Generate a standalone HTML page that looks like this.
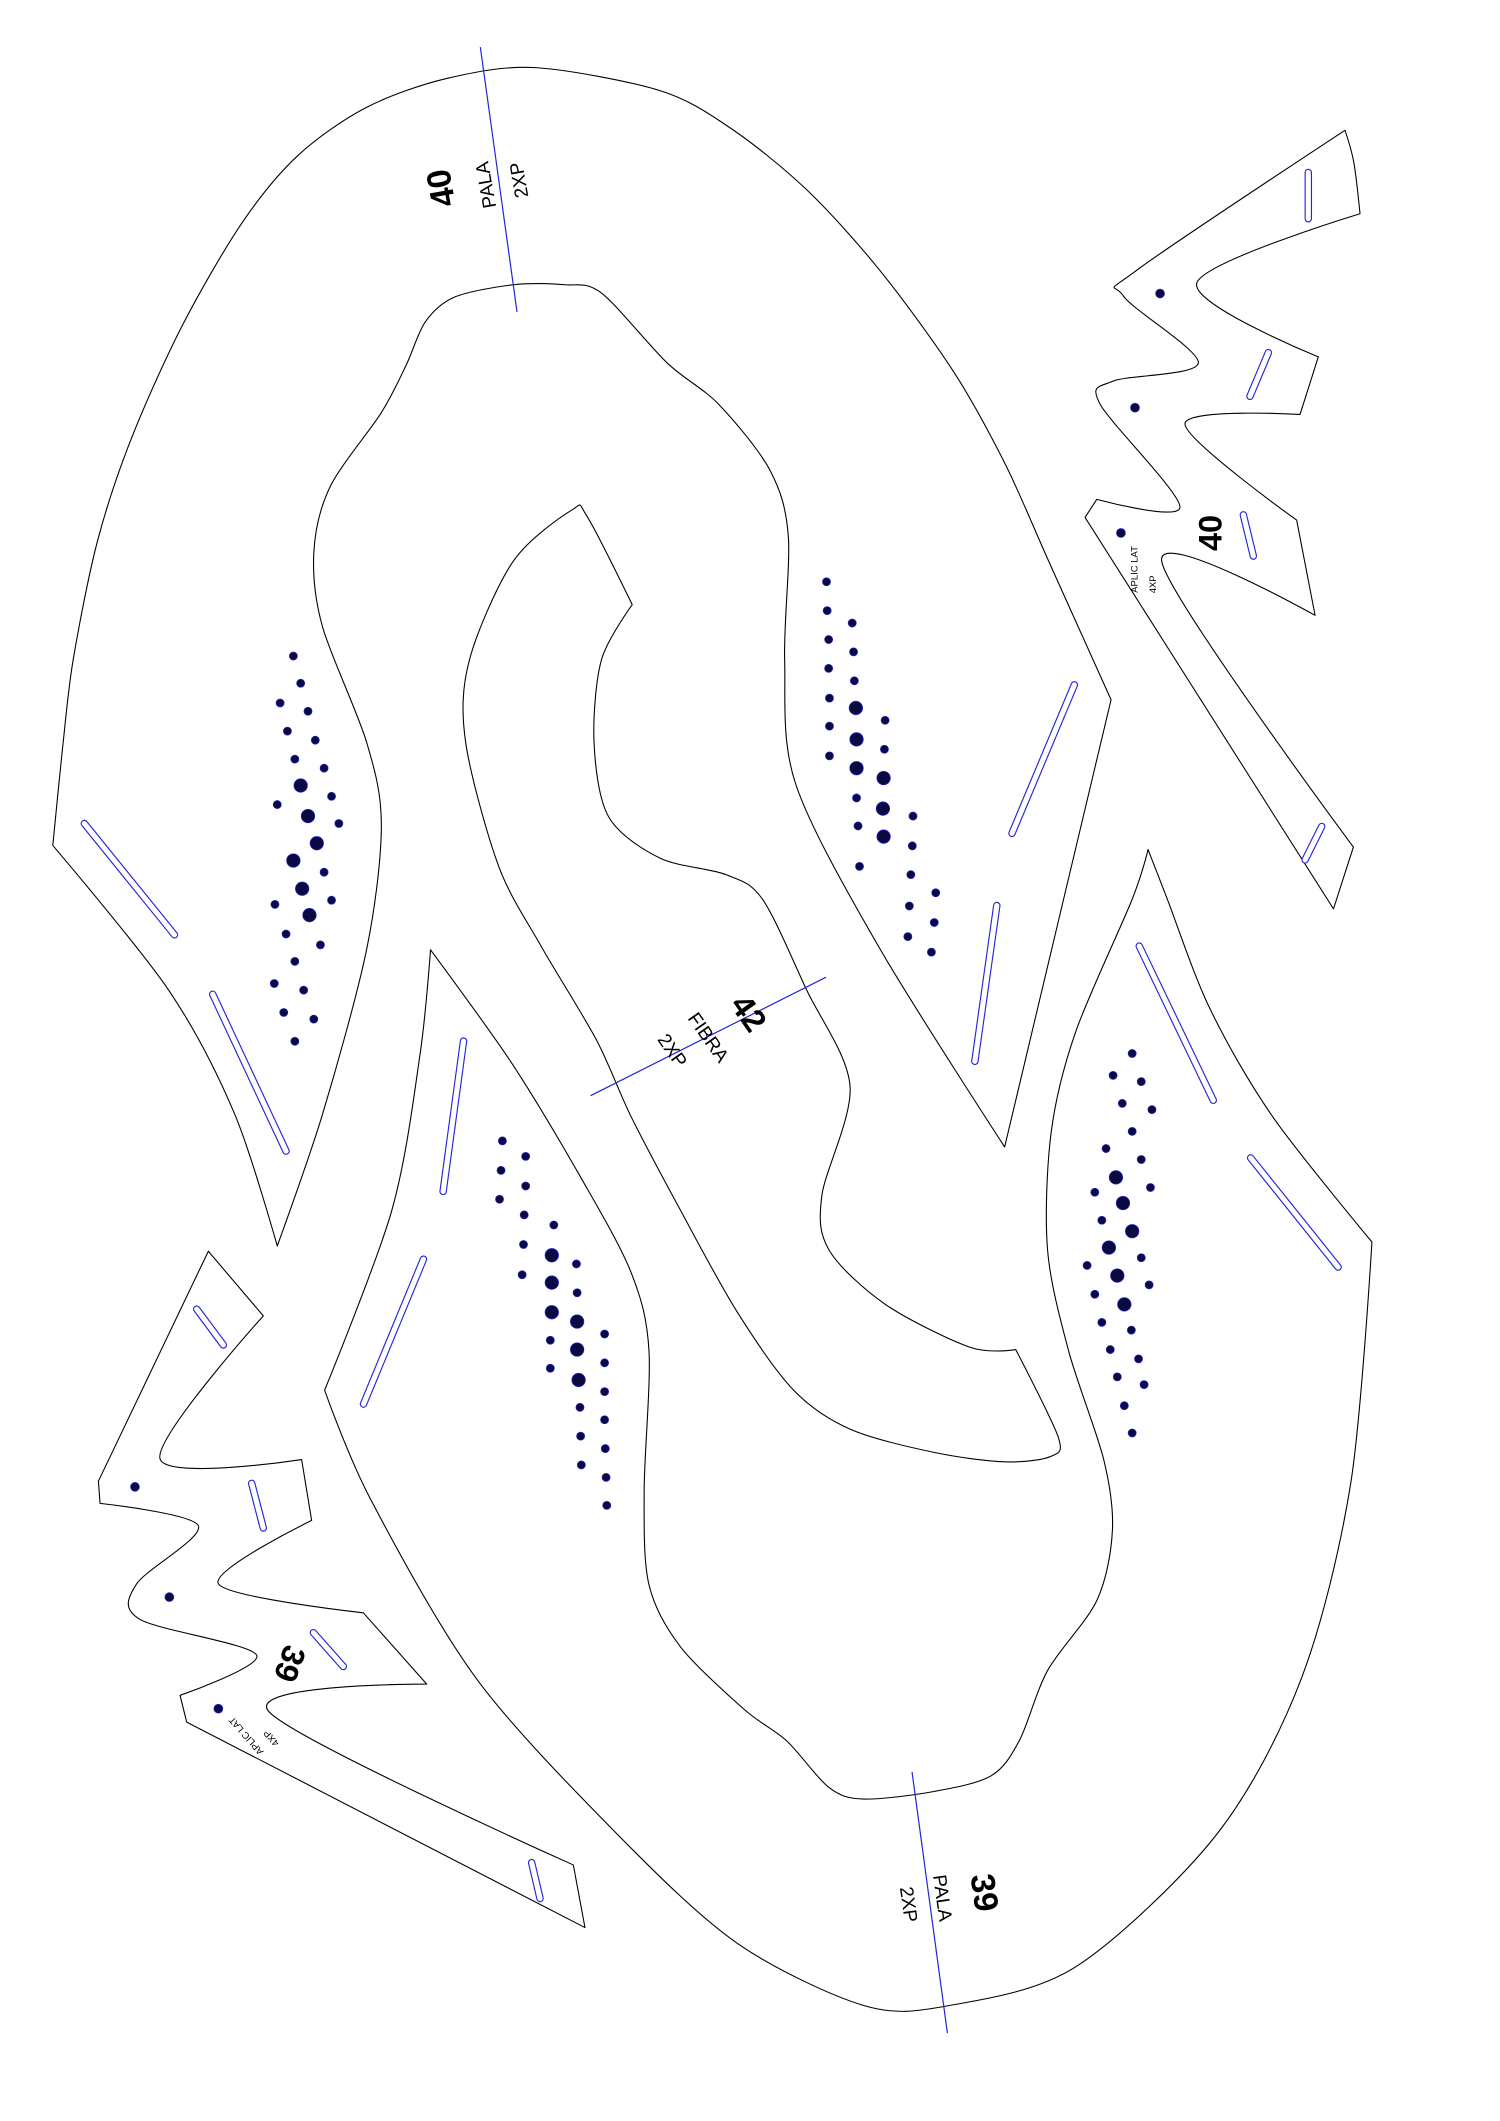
<!DOCTYPE html>
<html><head><meta charset="utf-8"><style>
html,body{margin:0;padding:0;background:#fff;}
svg{display:block;}
text{font-family:"Liberation Sans",sans-serif;fill:#000;}
</style></head><body>
<svg id="s" width="1500" height="2121" viewBox="0 0 1108 1568" preserveAspectRatio="none" xmlns="http://www.w3.org/2000/svg">
<rect width="1108" height="1568" fill="#fff"/>
<g id="outl" fill="none" stroke="#000" stroke-width="0.8" stroke-linejoin="round">
<polygon points="39,625 46,555 54,488 72,400 97.5,323 135,240 178.8,164.7 220,115 270.9,79.3 330,58 395.4,50 487.5,67 540,95 595.9,140.3 650,200 704.2,274.5 742,342 774.6,414.8 820.7,517.3 742.1,847.9 650,701.5 587.7,579.5 579.6,488 582.3,396.5 568.8,347.7 530.9,298.9 492.9,268.4 444.2,216.6 417.1,210.5 379.2,210.5 335.9,219.6 314.2,237.9 300,270 281.7,305 243.8,359.9 231.8,408.7 238.3,463.6 270.9,549 281.7,610 270.9,701.5 238.3,823.5 204.8,921.1 173.3,823.5 124.6,732"/>
<polygon points="422.5,377 433.4,381.3 467,447 444.2,488 438.8,549 449.6,603.9 487.5,634.4 536.3,646.6 563.4,665 595.9,732 627.9,803 607.1,883.7 612.3,924 654,964.3 716.5,996 750.3,997.7 781.6,1062.2 776.4,1076.6 742.5,1080.7 690.4,1073.8 627.9,1056.5 586.2,1027.7 544.6,970 502.9,895.2 466.4,826 440.4,768.5 400,700 368.4,640.5 344,549 346.7,488 379.2,414.8"/>
<polygon points="239.8,1027.7 273.7,1108.3 351.8,1240.8 456,1356 544.6,1436.6 638.3,1482.7 700.8,1482.7 794.6,1454 898.8,1356 961.3,1240.8 997.7,1096.8 1013.4,918.2 940.4,826 893.6,745.4 862.3,664.8 848,628 836.3,664.8 794.6,762.7 776.4,837.6 773.8,924 789.4,998.9 815.4,1079.5 821.7,1131.4 810.2,1183.2 773.8,1235 752.9,1286.9 732.1,1312.8 690.4,1324.3 638.3,1330 612.3,1321.4 581,1286.9 549.8,1263.8 502.9,1217.8 479.4,1171.7 475.8,1102.6 479.4,998.9 466.4,941.3 430,872.2 377.9,785.8 318,702.2 310.2,780 289.3,895.2"/>
<polygon points="993.5,96.3 1000,120 1004.6,158 884,209.3 973.8,263.8 960.3,306.4 875.3,313.3 957.8,384.5 971.4,454.9 858.1,414.9 999.7,626.2 985,671.9 801.5,382.5 810.1,369.2 871.6,375 812.6,298.8 822.4,281.7 885.2,268.3 829.8,218.8 839.6,199.8"/>
<polygon points="153.9,925 194.5,972.8 118.2,1078.4 222.8,1079 230.2,1124 161.3,1170.8 268.4,1192.3 315.2,1245 198.2,1264.9 423.5,1378.7 432.1,1425 137.9,1273.1 133,1253.3 189.6,1223.6 103.4,1197.2 101,1170.8 146.5,1127.9 73.9,1111.4 72.7,1095"/>
</g>
<g stroke="#2626d9" stroke-width="0.9">
<line x1="354.8" y1="34.8" x2="381.9" y2="230.6"/>
<line x1="436.2" y1="810" x2="610.2" y2="722.4"/>
<line x1="673.7" y1="1310" x2="699.8" y2="1503"/>
</g>
<g stroke-linecap="round">
<g stroke="#2626d9" stroke-width="5.5">
<line x1="62.3" y1="608.8" x2="128.9" y2="691.1"/><line x1="157.1" y1="735" x2="211.3" y2="851"/>
<line x1="793.6" y1="506.3" x2="747.5" y2="616.1"/><line x1="736.3" y1="669.4" x2="720.1" y2="784.6"/>
<line x1="342.4" y1="769.6" x2="327.3" y2="880.8"/><line x1="312.8" y1="930.9" x2="268.5" y2="1038"/>
<line x1="841.5" y1="699.4" x2="896.2" y2="813.4"/><line x1="923.8" y1="856" x2="988.4" y2="936.7"/>
<line x1="966.4" y1="127.5" x2="966.4" y2="161.7"/><line x1="923.3" y1="293" x2="936.9" y2="260.7"/>
<line x1="918.4" y1="380.6" x2="925.8" y2="411.1"/><line x1="964" y1="635.7" x2="976.3" y2="611"/>
<line x1="145.3" y1="967.8" x2="165" y2="994.3"/><line x1="185.9" y1="1096.6" x2="194.5" y2="1129.6"/>
<line x1="231.5" y1="1207" x2="253.6" y2="1232"/><line x1="392.7" y1="1377" x2="398.9" y2="1403.5"/>
</g>
<g stroke="#fff" stroke-width="3.8">
<line x1="62.3" y1="608.8" x2="128.9" y2="691.1"/><line x1="157.1" y1="735" x2="211.3" y2="851"/>
<line x1="793.6" y1="506.3" x2="747.5" y2="616.1"/><line x1="736.3" y1="669.4" x2="720.1" y2="784.6"/>
<line x1="342.4" y1="769.6" x2="327.3" y2="880.8"/><line x1="312.8" y1="930.9" x2="268.5" y2="1038"/>
<line x1="841.5" y1="699.4" x2="896.2" y2="813.4"/><line x1="923.8" y1="856" x2="988.4" y2="936.7"/>
<line x1="966.4" y1="127.5" x2="966.4" y2="161.7"/><line x1="923.3" y1="293" x2="936.9" y2="260.7"/>
<line x1="918.4" y1="380.6" x2="925.8" y2="411.1"/><line x1="964" y1="635.7" x2="976.3" y2="611"/>
<line x1="145.3" y1="967.8" x2="165" y2="994.3"/><line x1="185.9" y1="1096.6" x2="194.5" y2="1129.6"/>
<line x1="231.5" y1="1207" x2="253.6" y2="1232"/><line x1="392.7" y1="1377" x2="398.9" y2="1403.5"/>
</g>
</g>
<g fill="#0a0a40" stroke="#2626d9" stroke-width="0.5">
<circle cx="216.7" cy="485" r="3"/><circle cx="222.1" cy="505.1" r="3"/><circle cx="206.9" cy="519.7" r="3"/><circle cx="227.5" cy="525.8" r="3"/><circle cx="212.3" cy="540.5" r="3"/><circle cx="232.9" cy="547.2" r="3"/><circle cx="217.8" cy="561.2" r="3"/><circle cx="239.4" cy="567.9" r="3"/><circle cx="222.1" cy="580.7" r="5"/><circle cx="244.9" cy="588.7" r="3"/><circle cx="204.8" cy="594.8" r="3"/><circle cx="227.5" cy="603.3" r="5"/><circle cx="250.3" cy="608.8" r="3"/><circle cx="234" cy="623.4" r="5"/><circle cx="216.7" cy="636.2" r="5"/><circle cx="239.4" cy="644.8" r="3"/><circle cx="223.2" cy="657" r="5"/><circle cx="244.9" cy="665.5" r="3"/><circle cx="203.1" cy="668.6" r="3"/><circle cx="228.6" cy="676.5" r="5"/><circle cx="211.3" cy="690.5" r="3"/><circle cx="236.7" cy="698.5" r="3"/><circle cx="217.8" cy="710.7" r="3"/><circle cx="202.6" cy="727.1" r="3"/><circle cx="224.3" cy="732" r="3"/><circle cx="209.6" cy="748.5" r="3"/><circle cx="231.8" cy="753.4" r="3"/><circle cx="217.8" cy="769.8" r="3"/>
<circle cx="610.5" cy="430.1" r="3"/><circle cx="611" cy="451.4" r="3"/><circle cx="629.5" cy="460.6" r="3"/><circle cx="612.1" cy="472.8" r="3"/><circle cx="630.5" cy="481.9" r="3"/><circle cx="612.1" cy="494.1" r="3"/><circle cx="631.1" cy="503.3" r="3"/><circle cx="612.7" cy="516.1" r="3"/><circle cx="632.2" cy="523.4" r="5"/><circle cx="653.8" cy="532.5" r="3"/><circle cx="612.7" cy="536.8" r="3"/><circle cx="632.7" cy="546.6" r="5"/><circle cx="653.3" cy="553.9" r="3"/><circle cx="612.7" cy="558.8" r="3"/><circle cx="632.7" cy="567.9" r="5"/><circle cx="652.7" cy="575.2" r="5"/><circle cx="632.7" cy="589.9" r="3"/><circle cx="652.2" cy="597.8" r="5"/><circle cx="674.4" cy="603.3" r="3"/><circle cx="633.8" cy="610.6" r="3"/><circle cx="652.7" cy="618.5" r="5"/><circle cx="673.9" cy="625.3" r="3"/><circle cx="634.9" cy="640.5" r="3"/><circle cx="672.8" cy="646.6" r="3"/><circle cx="691.2" cy="660" r="3"/><circle cx="671.7" cy="669.8" r="3"/><circle cx="690.1" cy="682" r="3"/><circle cx="670.6" cy="692.4" r="3"/><circle cx="688" cy="703.9" r="3"/>
<circle cx="371.1" cy="843.4" r="3"/><circle cx="388.3" cy="854.9" r="3"/><circle cx="370.1" cy="865.2" r="3"/><circle cx="388.3" cy="876.8" r="3"/><circle cx="369" cy="886.6" r="3"/><circle cx="387.2" cy="898.1" r="3"/><circle cx="409.1" cy="905.6" r="3"/><circle cx="386.7" cy="920" r="3"/><circle cx="407.6" cy="928" r="5"/><circle cx="425.8" cy="934.4" r="3"/><circle cx="385.7" cy="942.4" r="3"/><circle cx="407.6" cy="948.2" r="5"/><circle cx="426.3" cy="955.7" r="3"/><circle cx="407.6" cy="970.1" r="5"/><circle cx="426.3" cy="977" r="5"/><circle cx="446.6" cy="986.2" r="3"/><circle cx="406.5" cy="990.8" r="3"/><circle cx="426.3" cy="997.7" r="5"/><circle cx="446.6" cy="1007.5" r="3"/><circle cx="406.5" cy="1011.5" r="3"/><circle cx="427.4" cy="1020.2" r="5"/><circle cx="446.6" cy="1028.8" r="3"/><circle cx="428.4" cy="1040.4" r="3"/><circle cx="446.6" cy="1049.6" r="3"/><circle cx="428.9" cy="1061.7" r="3"/><circle cx="447.1" cy="1070.9" r="3"/><circle cx="429.4" cy="1083" r="3"/><circle cx="447.7" cy="1092.2" r="3"/><circle cx="448.2" cy="1112.9" r="3"/>
<circle cx="836.3" cy="778.8" r="3"/><circle cx="822.2" cy="795" r="3"/><circle cx="843" cy="799.6" r="3"/><circle cx="829" cy="815.7" r="3"/><circle cx="850.9" cy="820.3" r="3"/><circle cx="836.3" cy="836.4" r="3"/><circle cx="817" cy="849.1" r="3"/><circle cx="843" cy="857.2" r="3"/><circle cx="824.3" cy="870.4" r="5"/><circle cx="849.8" cy="877.9" r="3"/><circle cx="808.7" cy="881.4" r="3"/><circle cx="829.5" cy="889.4" r="5"/><circle cx="813.9" cy="902.1" r="3"/><circle cx="836.3" cy="910.2" r="5"/><circle cx="819.1" cy="922.3" r="5"/><circle cx="843" cy="929.8" r="3"/><circle cx="803" cy="935.5" r="3"/><circle cx="825.3" cy="943" r="5"/><circle cx="848.8" cy="949.9" r="3"/><circle cx="808.7" cy="956.8" r="3"/><circle cx="830.5" cy="964.3" r="5"/><circle cx="813.9" cy="977.6" r="3"/><circle cx="835.7" cy="983.3" r="3"/><circle cx="820.1" cy="997.7" r="3"/><circle cx="841" cy="1004.6" r="3"/><circle cx="825.3" cy="1017.9" r="3"/><circle cx="845.1" cy="1023.6" r="3"/><circle cx="830.5" cy="1039.2" r="3"/><circle cx="836.3" cy="1059.4" r="3"/>
<circle cx="856.9" cy="217" r="3.3"/><circle cx="838.4" cy="301.4" r="3.3"/><circle cx="828" cy="394" r="3.3"/>
<circle cx="99.7" cy="1099.2" r="3.3"/><circle cx="125.1" cy="1180.7" r="3.3"/><circle cx="161.3" cy="1263.2" r="3.3"/>
</g>
<g text-anchor="middle" dominant-baseline="central">
<text transform="translate(326,139) rotate(-100)" font-size="25" font-weight="bold">40</text>
<text transform="translate(359.5,136.6) rotate(-100)" font-size="14">PALA</text>
<text transform="translate(384,133) rotate(-100)" font-size="14">2XP</text>
<text transform="translate(553,749) rotate(55)" font-size="24" font-weight="bold">42</text>
<text transform="translate(522.7,767.3) rotate(55)" font-size="14">FIBRA</text>
<text transform="translate(496.1,777) rotate(55)" font-size="14">2XP</text>
<text transform="translate(726.9,1399.2) rotate(82)" font-size="25" font-weight="bold">39</text>
<text transform="translate(695.6,1403.2) rotate(82)" font-size="14">PALA</text>
<text transform="translate(670.6,1408) rotate(82)" font-size="14">2XP</text>
<text transform="translate(894,394) rotate(-90)" font-size="24" font-weight="bold">40</text>
<text transform="translate(838.4,421) rotate(-90)" font-size="7">APLIC LAT</text>
<text transform="translate(852,432) rotate(-90)" font-size="7">4XP</text>
<text transform="translate(214,1230) rotate(110)" font-size="24" font-weight="bold">39</text>
<text transform="translate(182.2,1283) rotate(229)" font-size="7">APLIC LAT</text>
<text transform="translate(200.7,1284.7) rotate(229)" font-size="7">4XP</text>
</g>
</svg>
<script>
(function(){
try{
var NS="http://www.w3.org/2000/svg";
var CORNERS=[[0,18,19,41],[2,15],[0,11,15,39],[0,2,4,5,7,8,10,11,12,13],[0,1,3,4,6,7,9,10,11,12,17,18]];
var polys=document.querySelectorAll("#outl polygon");
for(var k=0;k<polys.length;k++){
var pg=polys[k];
var nums=pg.getAttribute("points").trim().split(/[\s,]+/).map(Number);
var P=[];for(var i=0;i<nums.length;i+=2)P.push([nums[i],nums[i+1]]);
var n=P.length,corner=[];
for(var i=0;i<n;i++)corner.push(CORNERS[k].indexOf(i)>=0);
var d="M"+P[0][0]+","+P[0][1];
for(var i=0;i<n;i++){
var p0=P[(i-1+n)%n],p1=P[i],p2=P[(i+1)%n],p3=P[(i+2)%n];
var t=0.15;
var c1=corner[i]?p1:[p1[0]+(p2[0]-p0[0])*t,p1[1]+(p2[1]-p0[1])*t];
var c2=corner[(i+1)%n]?p2:[p2[0]-(p3[0]-p1[0])*t,p2[1]-(p3[1]-p1[1])*t];
d+=" C"+c1[0].toFixed(1)+","+c1[1].toFixed(1)+" "+c2[0].toFixed(1)+","+c2[1].toFixed(1)+" "+p2[0]+","+p2[1];
}
d+="Z";
var path=document.createElementNS(NS,"path");
path.setAttribute("d",d);
pg.parentNode.replaceChild(path,pg);
}
}catch(e){}
})();
</script>
</body></html>
